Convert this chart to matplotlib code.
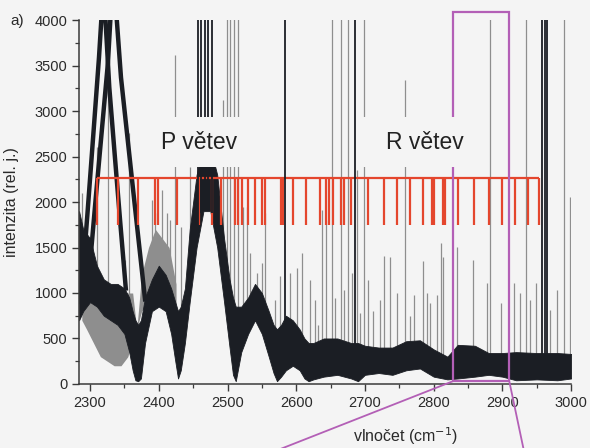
import numpy as np
import matplotlib
matplotlib.use("Agg")
import matplotlib.pyplot as plt
from matplotlib.patches import Rectangle

plt.rcParams['font.family'] = ['Liberation Sans', 'DejaVu Sans']

# ---------------- data ----------------
# main (dark) noisy spectrum envelope
band_x = [2284, 2290, 2300, 2310, 2320, 2330, 2340, 2350, 2357, 2362, 2366, 2370,
          2374, 2380, 2390, 2400, 2410, 2418, 2424, 2428, 2432, 2438, 2445, 2455,
          2465, 2475, 2485, 2495, 2503, 2508, 2512, 2520, 2530, 2540, 2550, 2560,
          2567, 2572, 2578, 2585, 2595, 2605, 2612, 2618, 2625, 2640, 2660, 2680,
          2690, 2700, 2720, 2740, 2760, 2780, 2800, 2820, 2835, 2860, 2880, 2900,
          2920, 2950, 2980, 3000]
band_lo = [700, 800, 900, 850, 750, 700, 650, 550, 350, 150, 40, 30,
           60, 450, 800, 850, 800, 550, 250, 60, 150, 450, 900, 1500,
           1900, 1900, 1500, 900, 400, 100, 30, 350, 550, 700, 550, 300,
           120, 30, 80, 150, 200, 150, 60, 30, 50, 80, 100, 60,
           30, 100, 120, 100, 150, 170, 80, 50, 60, 80, 100, 80,
           40, 50, 40, 60]
band_hi = [1900, 1700, 1600, 1300, 1150, 1100, 1100, 1050, 950, 800, 700, 650,
           700, 950, 1150, 1300, 1200, 1050, 900, 800, 850, 1050, 1700, 2300,
           2600, 2600, 2300, 1600, 1150, 950, 850, 850, 950, 1100, 1000, 800,
           650, 600, 650, 750, 700, 600, 500, 450, 450, 500, 500, 450,
           450, 420, 400, 400, 470, 480, 380, 300, 430, 420, 340, 340,
           350, 340, 340, 330]

# secondary (grey) spectrum envelope
grey_x = [2288, 2295, 2305, 2315, 2325, 2335, 2345, 2355, 2362, 2368,
          2375, 2385, 2395, 2405, 2415, 2425]
grey_lo = [700, 600, 450, 300, 250, 200, 200, 300, 500, 600,
           800, 900, 950, 950, 900, 700]
grey_hi = [1500, 1300, 1200, 1100, 1050, 1000, 1000, 1000, 1000, 600,
           1200, 1500, 1700, 1600, 1500, 1100]

# the two strong overlapping bands near 2320 cm-1
peak1_x = [2286, 2296, 2306, 2313, 2318, 2321, 2328, 2336, 2344, 2352]
peak1_y = [900, 1850, 2870, 3590, 4200, 4200, 3260, 2510, 1770, 1050]
peak2_x = [2298, 2308, 2318, 2326, 2331, 2337, 2345, 2355, 2365, 2380]
peak2_y = [1150, 2020, 2860, 3530, 4200, 4200, 3370, 2670, 1970, 930]

# saturated lines (reach the top of the plot)
tall_grey_x = [2326, 2499, 2504, 2509, 2515, 2652, 2665, 2676, 2699,
               2882, 2935, 2989]
tall_dark_x = [2457, 2462, 2467, 2472, 2478, 2584, 2685,
               2958, 2962, 2965]

# weaker grey lines: position and peak intensity
line_x = [2288, 2295, 2310, 2351, 2356, 2390, 2395, 2404, 2412, 2416, 2424,
          2433, 2446, 2493, 2523, 2528, 2533, 2543, 2550, 2555, 2569, 2577,
          2591, 2601, 2608, 2620, 2627, 2632, 2638, 2644, 2657, 2670, 2681,
          2688, 2693, 2704, 2712, 2722, 2727, 2737, 2747, 2758, 2766, 2772,
          2784, 2790, 2795, 2805, 2810, 2814, 2834, 2857, 2877, 2898, 2917,
          2926, 2940, 2949, 2969, 2979, 2998]
line_top = [2097, 2024, 2610, 1365, 2756, 2024, 1878, 2134, 1878, 1804, 3615,
            1731, 2390, 3122, 1951, 1951, 1438, 1219, 1329, 1878, 926, 1182,
            1219, 1274, 1438, 1143, 926, 652, 1914, 1800, 944, 1036, 1219,
            2353, 778, 1146, 798, 924, 1402, 1400, 997, 3340, 743, 981,
            1347, 999, 889, 981, 1548, 1400, 1510, 1363, 1107, 887, 1107,
            997, 924, 1107, 814, 1034, 2055]

# assignment comb (red)
comb_x = [2310, 2341, 2370, 2395, 2399, 2426, 2458, 2477, 2490, 2511, 2516,
          2521, 2530, 2540, 2550, 2555, 2578, 2581, 2596, 2614, 2635, 2643,
          2647, 2654, 2665, 2669, 2680, 2705, 2727, 2746, 2766, 2784, 2798,
          2801, 2813, 2817, 2836, 2858, 2880, 2900, 2919, 2937, 2953]
comb_top = 2260
comb_bottom = 1750

xticks = [2300, 2400, 2500, 2600, 2700, 2800, 2900, 3000]
yticks = [0, 500, 1000, 1500, 2000, 2500, 3000, 3500, 4000]

# ---------------- drawing ----------------
BG = '#f4f4f4'
DARK = '#1b1e24'
GREY = '#8e8e8e'
RED = '#e4462d'
PURPLE = '#b35fb6'

fig = plt.figure(figsize=(5.9, 4.48), dpi=100, facecolor=BG)
ax = fig.add_axes([0.134, 0.143, 0.834, 0.812], facecolor=BG)

# grey lines
base = np.interp(line_x, band_x, band_lo) + 150
ax.vlines(line_x, base, line_top, colors=GREY, lw=0.9, zorder=1)
tb = np.interp(tall_grey_x, band_x, band_lo) + 150
ax.vlines(tall_grey_x, tb, 4200, colors=GREY, lw=0.9, zorder=1)

# grey secondary spectrum
ax.fill_between(grey_x, grey_lo, grey_hi, color=GREY, lw=0, zorder=1.5)

# main spectrum
ax.fill_between(band_x, band_lo, band_hi, color=DARK, lw=0.6, edgecolor=DARK, zorder=2)
ax.plot(peak1_x, peak1_y, color=DARK, lw=3.2, zorder=2.5, solid_joinstyle='round')
ax.plot(peak2_x, peak2_y, color=DARK, lw=3.2, zorder=2.5, solid_joinstyle='round')

# red comb
ax.vlines(comb_x, comb_bottom, comb_top, colors=RED, lw=1.6, zorder=3)
ax.hlines(comb_top, comb_x[0], comb_x[-1], colors=RED, lw=1.6, zorder=3)

# dark saturated lines
db = np.interp(tall_dark_x, band_x, band_lo) + 100
ax.vlines(tall_dark_x, db, 4200, colors=DARK, lw=1.3, zorder=3.5)

# purple zoom rectangle and connectors
ax.add_patch(Rectangle((2828, 30), 82, 4060, fill=False, edgecolor=PURPLE,
                       lw=1.6, clip_on=False, zorder=4))
ax.plot([2828, 2562], [30, -760], color=PURPLE, lw=1.3, clip_on=False, zorder=4)
ax.plot([2910, 2932], [30, -760], color=PURPLE, lw=1.3, clip_on=False, zorder=4)

# label boxes that interrupt the lines
ax.add_patch(Rectangle((2410, 2385), 123, 550, facecolor=BG, edgecolor='none',
                       zorder=5, clip_on=False))
ax.add_patch(Rectangle((2693, 2385), 160, 550, facecolor=BG, edgecolor='none',
                       zorder=5, clip_on=False))
ax.text(2458, 2660, 'P větev', fontsize=16.5, color='#222222', ha='center',
        va='center', zorder=6)
ax.text(2787, 2660, 'R větev', fontsize=16.5, color='#222222', ha='center',
        va='center', zorder=6)

ax.set_xlim(2284, 3000)
ax.set_ylim(0, 4000)
ax.set_xticks(xticks)
ax.set_yticks(yticks)
ax.set_xticks(np.arange(2350, 3000, 100), minor=True)
ax.set_yticks(np.arange(250, 4000, 500), minor=True)
for s in ['top', 'right']:
    ax.spines[s].set_visible(False)
for s in ['left', 'bottom']:
    ax.spines[s].set_color('#3a3a3a')
    ax.spines[s].set_linewidth(1.1)
ax.tick_params(which='major', direction='out', length=5, width=1.0,
               color='#3a3a3a', labelsize=10.5, labelcolor='#2a2a2a')
ax.tick_params(which='minor', direction='out', length=3, width=0.9, color='#3a3a3a')
ax.tick_params(axis='x', pad=4)

ax.set_ylabel('intenzita (rel. j.)', fontsize=11.5, color='#2a2a2a')
ax.yaxis.set_label_coords(-0.122, 0.5)
ax.set_xlabel('vlnočet (cm$^{-1}$)', fontsize=11.5, color='#2a2a2a')
ax.xaxis.set_label_coords(0.663, -0.115)

fig.text(0.029, 0.953, 'a)', fontsize=11, color='#2a2a2a', ha='center', va='center')

fig.savefig('out.png', dpi=100, facecolor=BG)
